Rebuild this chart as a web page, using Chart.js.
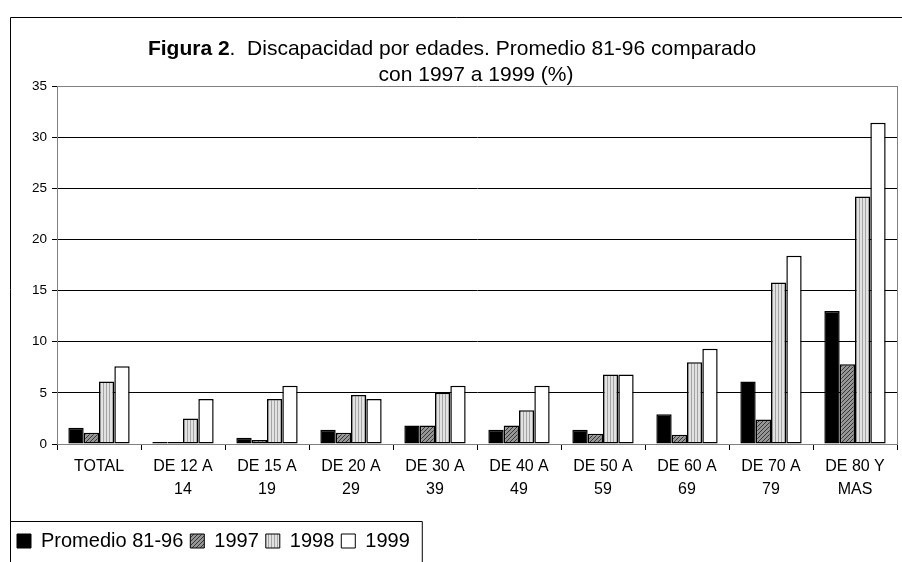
<!DOCTYPE html>
<html>
<head>
<meta charset="utf-8">
<script src="https://cdn.jsdelivr.net/npm/chart.js@4.4.0/dist/chart.umd.min.js"></script>
<style>
html,body{margin:0;padding:0;background:#fff;}
#wrap{position:relative;width:902px;height:562px;}
</style>
</head>
<body>
<div id="wrap"><canvas id="c"></canvas></div>
<script>
const categories = [
  ['TOTAL'], ['DE 12 A', '14'], ['DE 15 A', '19'], ['DE 20 A', '29'], ['DE 30 A', '39'],
  ['DE 40 A', '49'], ['DE 50 A', '59'], ['DE 60 A', '69'], ['DE 70 A', '79'], ['DE 80 Y', 'MAS']
];
const seriesNames = ['Promedio 81-96', '1997', '1998', '1999'];
const promedio = [1.6, 0.2, 0.6, 1.4, 1.8, 1.4, 1.4, 2.9, 6.1, 13.0];
const v1997 = [1.1, 0.2, 0.4, 1.1, 1.8, 1.8, 1.0, 0.9, 2.4, 7.8];
const v1998 = [6.1, 2.5, 4.4, 4.8, 5.0, 3.3, 6.8, 8.0, 15.8, 24.2];
const v1999 = [7.6, 4.4, 5.7, 4.4, 5.7, 5.7, 6.8, 9.3, 18.4, 31.4];
const yTicks = [0, 5, 10, 15, 20, 25, 30, 35];
const titleBold = 'Figura 2';
const titleRest = '.  Discapacidad por edades. Promedio 81-96 comparado';
const titleLine2 = 'con 1997 a 1999 (%)';

function hatchDiag() {
  const c = document.createElement('canvas'); c.width = 4; c.height = 4;
  const x = c.getContext('2d');
  x.fillStyle = '#959595'; x.fillRect(0, 0, 4, 4);
  x.fillStyle = '#383838';
  for (let i = 0; i < 4; i++) x.fillRect(i, 3 - i, 1, 1);
  return x.createPattern(c, 'repeat');
}
function hatchVert() {
  const c = document.createElement('canvas'); c.width = 3; c.height = 3;
  const x = c.getContext('2d');
  x.fillStyle = '#e2e2e2'; x.fillRect(0, 0, 3, 3);
  x.fillStyle = '#a4a4a4'; x.fillRect(1, 0, 1, 3);
  return x.createPattern(c, 'repeat');
}
const fills = ['#000000', hatchDiag(), hatchVert(), '#ffffff'];
const seriesData = [promedio, v1997, v1998, v1999];
const FONT = '"Liberation Sans", Arial, sans-serif';

const decor = {
  id: 'decor',
  beforeDraw(chart) {
    const ctx = chart.ctx;
    ctx.save();
    ctx.fillStyle = '#fff';
    ctx.fillRect(0, 0, chart.width, chart.height);
    ctx.restore();
  },
  afterDraw(chart) {
    const ctx = chart.ctx;
    const a = chart.chartArea;
    ctx.save();
    ctx.strokeStyle = '#000'; ctx.lineWidth = 1;
    ctx.beginPath();
    ctx.moveTo(10.5, chart.height); ctx.lineTo(10.5, 17.5); ctx.lineTo(chart.width, 17.5);
    ctx.stroke();
    ctx.strokeStyle = '#808080';
    ctx.beginPath();
    ctx.moveTo(Math.round(a.right) + 0.5, a.top); ctx.lineTo(Math.round(a.right) + 0.5, a.bottom);
    ctx.stroke();
    const hb = chart.legend.legendHitBoxes;
    if (hb && hb.length) {
      const l = hb[0].left - 6.5;
      const last = hb[hb.length - 1];
      const r = last.left + last.width + 12.5;
      const t = Math.round(chart.legend.top) - 2.5;
      ctx.strokeStyle = '#000';
      ctx.beginPath();
      ctx.moveTo(l, chart.height); ctx.lineTo(l, t); ctx.lineTo(r, t); ctx.lineTo(r, chart.height);
      ctx.stroke();
    }
    ctx.fillStyle = '#000';
    ctx.textBaseline = 'alphabetic';
    ctx.font = 'bold 21px ' + FONT;
    const wb = ctx.measureText(titleBold).width;
    ctx.font = '21px ' + FONT;
    const wr = ctx.measureText(titleRest).width;
    const x0 = 452 - (wb + wr) / 2;
    ctx.textAlign = 'left';
    ctx.font = 'bold 21px ' + FONT;
    ctx.fillText(titleBold, x0, 55);
    ctx.font = '21px ' + FONT;
    ctx.fillText(titleRest, x0 + wb, 55);
    ctx.textAlign = 'center';
    ctx.fillText(titleLine2, 476, 81);
    ctx.restore();
  }
};

new Chart(document.getElementById('c'), {
  type: 'bar',
  data: {
    labels: categories,
    datasets: seriesNames.map((n, i) => ({
      label: n,
      data: seriesData[i],
      backgroundColor: fills[i],
      borderColor: '#000',
      borderWidth: 1.5,
      borderSkipped: false,
      barPercentage: 1.0,
      categoryPercentage: 0.73
    }))
  },
  options: {
    responsive: true,
    maintainAspectRatio: false,
    animation: false,
    layout: { padding: { top: 86, left: 10, right: 5, bottom: 1 } },
    plugins: {
      title: { display: false },
      tooltip: { enabled: false },
      legend: {
        display: true,
        position: 'bottom',
        align: 'start',
        labels: {
          boxWidth: 14, boxHeight: 14, padding: 7, color: '#000',
          font: { family: FONT, size: 20 },
          generateLabels(chart) {
            return chart.data.datasets.map((d, i) => ({
              text: d.label, fillStyle: d.backgroundColor, strokeStyle: '#000',
              lineWidth: 1, datasetIndex: i, hidden: false
            }));
          }
        }
      }
    },
    scales: {
      x: {
        grid: { offset: true, drawOnChartArea: false, drawTicks: true, tickLength: 6, color: '#000' },
        border: { color: '#808080', width: 1 },
        ticks: {
          color: '#000', padding: 5, maxRotation: 0, autoSkip: false,
          font: { family: FONT, size: 16, lineHeight: 1.45 }
        },
        afterFit(scale) { scale.height = 80; }
      },
      y: {
        min: 0, max: 35,
        afterBuildTicks(scale) { scale.ticks = yTicks.map(v => ({ value: v })); },
        grid: {
          color: ctx => (ctx.tick && ctx.tick.value === 35 ? '#808080' : '#000'),
          tickColor: '#000', tickLength: 5, lineWidth: 1
        },
        border: { color: '#808080', width: 1 },
        ticks: {
          color: '#000', padding: 5,
          font: { family: FONT, size: 13.5 }
        },
        afterFit(scale) { scale.width = 47; }
      }
    }
  },
  plugins: [decor]
});
</script>
</body>
</html>
